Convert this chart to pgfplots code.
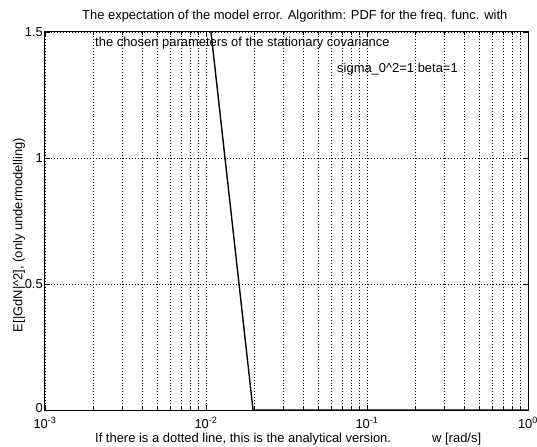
\documentclass[border=0pt]{standalone}
\usepackage{pgfplots}
\pgfplotsset{compat=1.18}
\usepackage{fontspec}
\setmainfont{Liberation Sans}
\begin{document}
\begin{tikzpicture}[x=1bp,y=1bp]
\useasboundingbox (-45bp,-37bp) rectangle (492bp,410bp);
\begin{axis}[
  at={(0,0)}, anchor=south west,
  scale only axis, width=483bp, height=378bp,
  xmode=log, xmin=1e-3, xmax=1, ymin=0, ymax=1.5,
  /pgf/number format/assume math mode=true,
  ytick={0,0.5,1,1.5}, yticklabels={\raisebox{4bp}{0},0.5,1,1.5},
  xtick={1e-3,1e-2,1e-1,1},
  xticklabels={10\textsuperscript{-3},10\textsuperscript{-2},10\textsuperscript{-1},10\textsuperscript{0}},
  minor xtick={2e-3,3e-3,4e-3,5e-3,6e-3,7e-3,8e-3,9e-3,2e-2,3e-2,4e-2,5e-2,6e-2,7e-2,8e-2,9e-2,2e-1,3e-1,4e-1,5e-1,6e-1,7e-1,8e-1,9e-1},
  xmajorgrids, xminorgrids, ymajorgrids,
  grid style={black, line width=0.6pt, dash pattern=on 0.6pt off 2.4pt},
  minor grid style={black, line width=0.6pt, dash pattern=on 0.6pt off 2.4pt},
  tick align=inside, major tick length=5bp, minor tick length=3bp,
  tick style={black, line width=0.6pt},
  axis line style={line width=1pt},
  tick label style={font=\fontsize{13}{15}\selectfont},
  xticklabel style={anchor=base, yshift=-18bp},
  yticklabel style={anchor=east, inner sep=0pt, xshift=-2bp},
  clip=true,
]
\addplot[black, line width=1.4pt] coordinates {(0.01074,1.5) (0.0196,0) (1,0)};
\end{axis}
\begin{scope}[font=\fontsize{13}{15}\selectfont]
\node[anchor=base west, inner sep=0] at (37bp,390bp) {The expectation of the model error. Algorithm: PDF for the freq. func. with};
\node[anchor=base west, inner sep=0] at (50bp,363bp) {the chosen parameters of the stationary covariance};
\node[anchor=base west, inner sep=0] at (292bp,337bp) {sigma\_0\^{}2=1 beta=1};
\node[anchor=base west, inner sep=0] at (50bp,-32bp) {If there is a dotted line, this is the analytical version.};
\node[anchor=base west, inner sep=0] at (387bp,-32bp) {w [rad/s]};
\node[rotate=90, anchor=center, inner sep=0] at (-26bp,175bp) {E[|GdN|\^{}2], (only undermodelling)};
\end{scope}
\end{tikzpicture}
\end{document}
